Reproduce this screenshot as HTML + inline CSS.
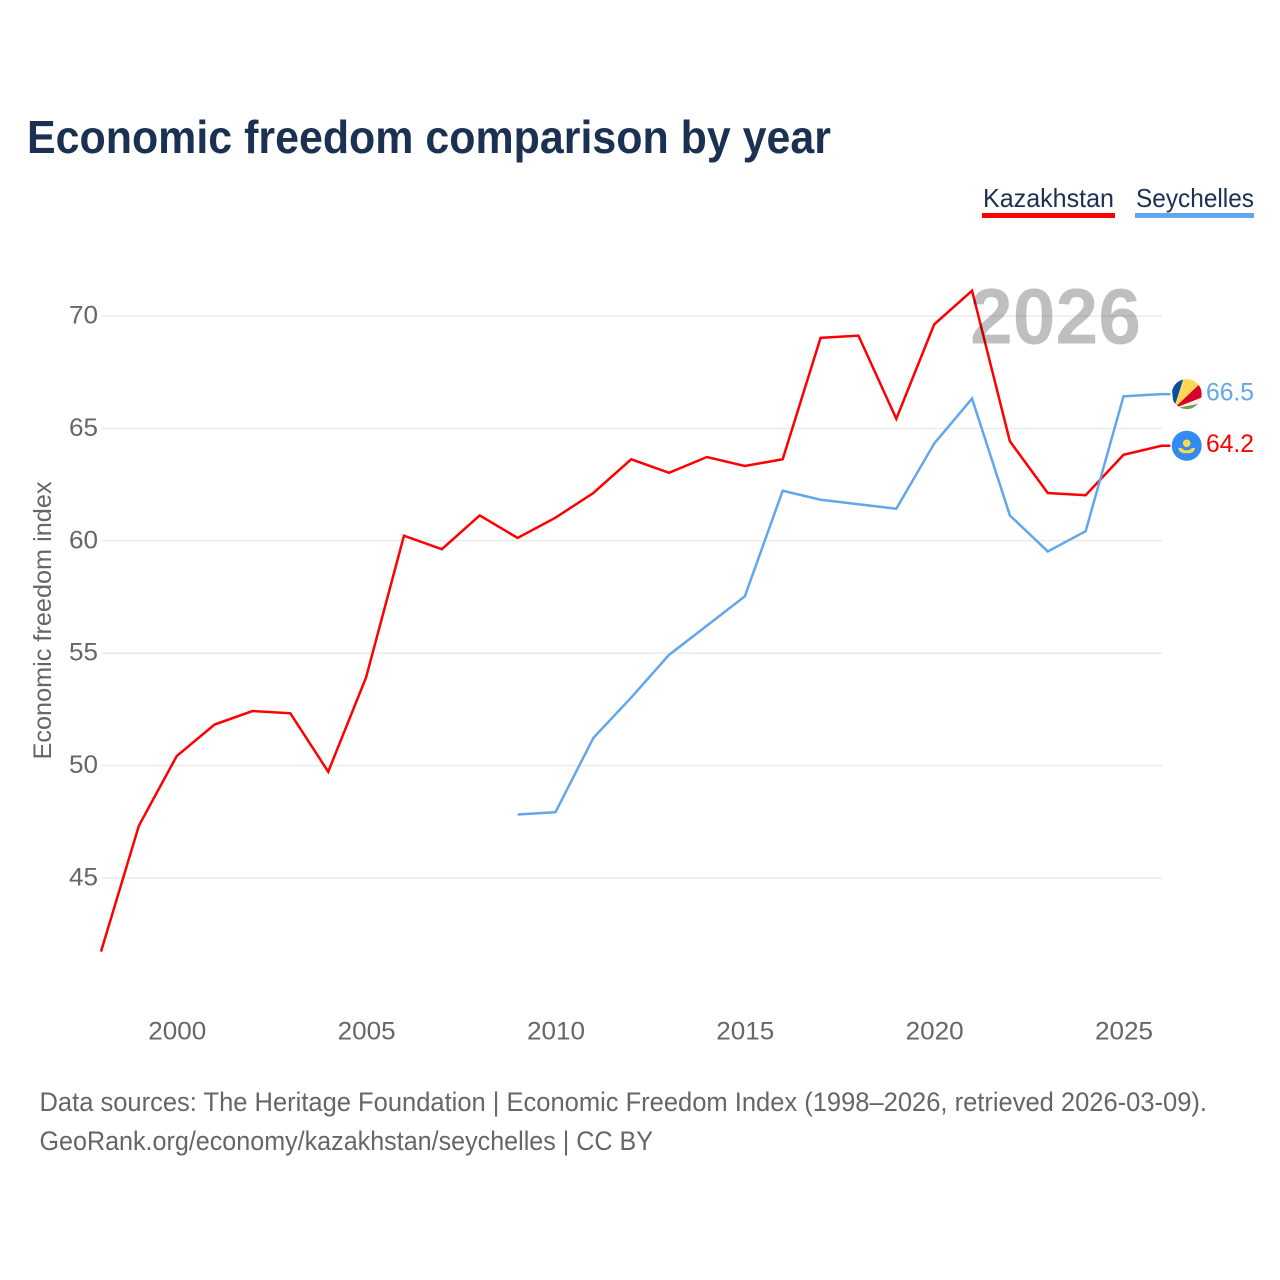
<!DOCTYPE html>
<html lang="en">
<head>
<meta charset="utf-8">
<title>Economic freedom comparison by year</title>
<style>
html,body{margin:0;padding:0;background:#fff;width:1280px;height:1280px;overflow:hidden}
svg{display:block;font-family:"Liberation Sans",sans-serif}
</style>
</head>
<body>
<svg id="chart" width="1280" height="1280" viewBox="0 0 1280 1280" xmlns="http://www.w3.org/2000/svg">
  <rect width="1280" height="1280" fill="#fff"/>
  <text x="27" y="153" font-size="46" font-weight="700" fill="#1a3152" textLength="804" lengthAdjust="spacingAndGlyphs">Economic freedom comparison by year</text>
  <g id="grid"></g>
  <g id="yticks"></g>
  <g id="xticks"></g>
  <text transform="translate(51,620.5) rotate(-90)" text-anchor="middle" font-size="25" fill="#666" textLength="278" lengthAdjust="spacingAndGlyphs">Economic freedom index</text>
  <g id="series"></g>
  <text id="yearLabel" x="970" y="343.5" font-size="79" font-weight="700" fill="#000" fill-opacity="0.25" textLength="171" lengthAdjust="spacingAndGlyphs">2026</text>
  <g id="ends"></g>

  <g>
    <text x="983" y="207" font-size="26" fill="#1a3152" textLength="131" lengthAdjust="spacingAndGlyphs">Kazakhstan</text>
    <rect x="982" y="213" width="133" height="5" fill="#ff0000"/>
  </g>
  <g>
    <text x="1136" y="207" font-size="26" fill="#1a3152" textLength="118" lengthAdjust="spacingAndGlyphs">Seychelles</text>
    <rect x="1135" y="213" width="119" height="5" fill="#62a6ec"/>
  </g>

  <text x="39.5" y="1111" font-size="27" fill="#666" textLength="1167.5" lengthAdjust="spacingAndGlyphs">Data sources: The Heritage Foundation | Economic Freedom Index (1998–2026, retrieved 2026-03-09).</text>
  <text x="39.5" y="1150" font-size="27" fill="#666" textLength="613.5" lengthAdjust="spacingAndGlyphs">GeoRank.org/economy/kazakhstan/seychelles | CC BY</text>
</svg>
<script>
const years = [1998,1999,2000,2001,2002,2003,2004,2005,2006,2007,2008,2009,2010,2011,2012,2013,2014,2015,2016,2017,2018,2019,2020,2021,2022,2023,2024,2025,2026];
const kazakhstan = [41.7,47.3,50.4,51.8,52.4,52.3,49.7,53.9,60.2,59.6,61.1,60.1,61.0,62.1,63.6,63.0,63.7,63.3,63.6,69.0,69.1,65.4,69.6,71.1,64.4,62.1,62.0,63.8,64.2];
const seychelles = [null,null,null,null,null,null,null,null,null,null,null,47.8,47.9,51.2,53.0,54.9,56.2,57.5,62.2,61.8,61.6,61.4,64.3,66.3,61.1,59.5,60.4,66.4,66.5];
const yTickValues = [45,50,55,60,65,70];
const xTickValues = [2000,2005,2010,2015,2020,2025];

const NS = 'http://www.w3.org/2000/svg';
const x = year => 101 + (year - 1998) * (1161.4 - 101) / 28;
const y = value => 877.4 - (value - 45) * 562 / 25;
const gridY = value => 878 - (value - 45) * 562 / 25;
function make(tag, parent, attrs, text) {
  const el = document.createElementNS(NS, tag);
  for (const k in attrs) el.setAttribute(k, attrs[k]);
  if (text !== undefined) el.textContent = text;
  parent.appendChild(el);
  return el;
}
const grid = document.getElementById('grid');
const yticks = document.getElementById('yticks');
const xticks = document.getElementById('xticks');
const series = document.getElementById('series');
const ends = document.getElementById('ends');

yTickValues.forEach(v => {
  const line = make('line', grid, {x1: 101.5, x2: 1162, y1: gridY(v), y2: gridY(v), stroke: '#ebebeb', 'stroke-width': 1.5});
  
  
  const label = make('text', yticks, {x: 98, y: gridY(v) + 7.5, 'text-anchor': 'end', 'font-size': 25, fill: '#666', textLength: 29, lengthAdjust: 'spacingAndGlyphs'}, String(v));
  
  
});
xTickValues.forEach(v => {
  const label = make('text', xticks, {x: x(v) + 0.5, y: 1039.5, 'text-anchor': 'middle', 'font-size': 25, fill: '#666', textLength: 58, lengthAdjust: 'spacingAndGlyphs'}, String(v));
  
  
});

function drawLine(name, values, color) {
  const pts = [];
  values.forEach((v, i) => { if (v !== null) pts.push(x(years[i]).toFixed(2) + ',' + y(v).toFixed(2)); });
  const last = values[values.length - 1];
  pts.push((x(years[years.length - 1]) + 9).toFixed(2) + ',' + y(last).toFixed(2));
  const line = make('polyline', series, {points: pts.join(' '), fill: 'none', stroke: color, 'stroke-width': 2.5, 'stroke-linejoin': 'miter'});
  
  
}
drawLine('kazakhstan', kazakhstan, '#ff0000');
drawLine('seychelles', seychelles, '#62a6ec');

const flagX = x(2026) + 25.3;
const kzLast = kazakhstan[kazakhstan.length - 1];
const scLast = seychelles[seychelles.length - 1];
const kzY = y(kzLast);
const scY = y(scLast);

function flagGroup(name, cy) {
  const g = make('g', ends, {transform: 'translate(' + flagX + ',' + cy + ')'});
  
  
  return g;
}
const defs = make('defs', ends, {});
const clip = make('clipPath', defs, {id: 'flagClip'});
make('circle', clip, {cx: 0, cy: 0, r: 15});

const sc = make('g', flagGroup('seychelles', scY), {'clip-path': 'url(#flagClip)'});
make('rect', sc, {x: -16, y: -16, width: 32, height: 32, fill: '#f2f2f2'});
make('path', sc, {d: 'M-12.7 14.3L-16 -16L-3 -16Z', fill: '#0a4ea2'});
make('path', sc, {d: 'M-12.7 14.3L-3 -16L16 -16L16 -13Z', fill: '#fcd856'});
make('path', sc, {d: 'M-12.7 14.3L16 -13L16 3Z', fill: '#d80027'});
make('path', sc, {d: 'M-12.7 14.3L16 9L16 16L-12.7 16Z', fill: '#6da544'});

const kz = flagGroup('kazakhstan', kzY);
make('circle', kz, {cx: 0, cy: 0, r: 15, fill: '#338af3'});
make('circle', kz, {cx: 0, cy: -2.5, r: 3.8, fill: '#ffda44'});
make('path', kz, {d: 'M-8.5 2Q-4 2 -2.5 4.5L2.5 4.5Q4 2 8.5 2Q7.5 7 3 7.5L-3 7.5Q-7.5 7 -8.5 2Z', fill: '#ffda44'});

const scLabel = make('text', ends, {x: 1206, y: scY + 6.5, 'font-size': 25, fill: '#62a6ec', textLength: 48, lengthAdjust: 'spacingAndGlyphs'}, scLast.toFixed(1));


const kzLabel = make('text', ends, {x: 1206, y: kzY + 6, 'font-size': 25, fill: '#ff0000', textLength: 48, lengthAdjust: 'spacingAndGlyphs'}, kzLast.toFixed(1));


</script>
</body>
</html>
